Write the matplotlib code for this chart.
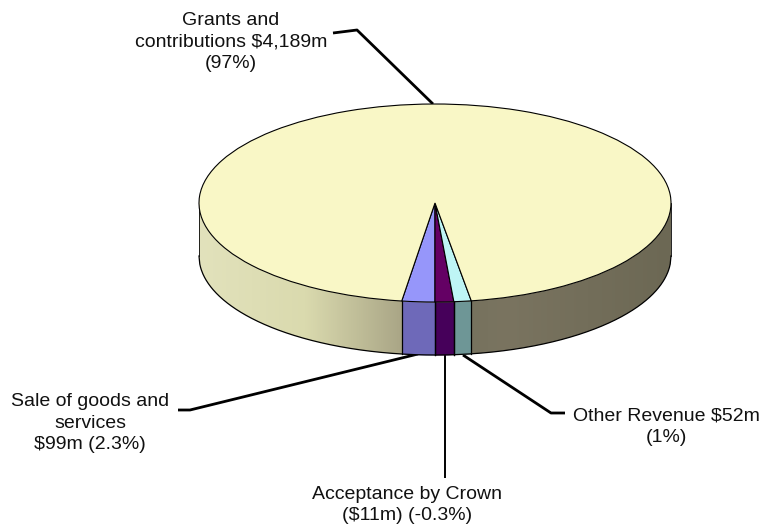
import numpy as np
import matplotlib.pyplot as plt

plt.rcParams['font.family'] = ['Liberation Sans', 'DejaVu Sans']

W, H = 762, 531

# slices run anticlockwise starting with the blue one at the front
names = ["Sale of goods and\nservices\n$99m (2.3%)",
         "Acceptance by Crown\n($11m) (-0.3%)",
         "Other Revenue $52m\n(1%)",
         "Grants and\ncontributions $4,189m\n(97%)"]
# drawn sizes, the purple slice is wider than its label says
sizes = [99, 56, 52, 4189]
top_colors = ["#9696fa", "#640064", "#bef5f5", "#f9f7c6"]
side_colors = ["#6e69b9", "#46005a", "#6e9696"]

# wall shading of the big slice, left to right
shade_x = [-1.0, -0.55, -0.16, 0.15, 0.3, 1.0]
shade_r = [226, 218, 172, 118, 122, 108]
shade_g = [226, 218, 168, 114, 116, 104]
shade_b = [188, 174, 136, 94, 96, 84]

label_x = [90, 407, 666, 231]
label_y = [423, 505, 427, 42]

leaders = [([178, 190, 418], [410, 410, 354], 2.0),
           ([445, 445], [355, 478], 1.4),
           ([463, 551, 565], [355, 413, 413], 2.0),
           ([333, 357, 433], [33, 30, 104], 2.0)]

cx, cy = 435, 203
rx, ry = 236, 99
depth = 53 / ry

fig = plt.figure(figsize=(W / 100, H / 100), dpi=100)

bg = fig.add_axes([0, 0, 1, 1])
bg.set_xlim(0, W)
bg.set_ylim(H, 0)
bg.axis('off')

# pie axes: one data unit is rx across and ry down
ax = fig.add_axes([(cx - rx * 1.02) / W, 1 - (cy + ry * 1.6) / H,
                   rx * 2.04 / W, ry * 2.62 / H])
ax.set_zorder(1)
ax.patch.set_alpha(0)

total = sum(sizes)
start = 270 - sizes[0] / total * 360

ax.pie(sizes, colors=top_colors, startangle=start, radius=1, counterclock=True,
       wedgeprops=dict(edgecolor='black', linewidth=0.8, zorder=3))
ax.set_aspect('auto')

# outer wall
x = np.linspace(-1, 1, 600)
upper = -np.sqrt(1 - x ** 2)
lower = upper - depth
wall = ax.fill_between(x, lower, upper, facecolor='none', edgecolor='none', zorder=1)

gx = np.linspace(-1, 1, 400)
grad = np.dstack([np.interp(gx, shade_x, shade_r),
                  np.interp(gx, shade_x, shade_g),
                  np.interp(gx, shade_x, shade_b)]) / 255
im = ax.imshow(grad, extent=(-1, 1, -1 - depth, 0), aspect='auto', zorder=1, origin='lower')
im.set_clip_path(wall.get_paths()[0], transform=ax.transData)

# front walls of the small slices
angle = start
for size, col in zip(sizes[:3], side_colors):
    end = angle + size / total * 360
    a = np.radians(np.linspace(angle, end, 30))
    xs = np.cos(a)
    ys = np.sin(a)
    ax.fill_between(xs, ys - depth, ys, color=col, lw=0, zorder=2)
    ax.plot([xs[0], xs[0]], [ys[0], ys[0] - depth], color='black', lw=0.9, zorder=2.5)
    ax.plot([xs[-1], xs[-1]], [ys[-1], ys[-1] - depth], color='black', lw=0.9, zorder=2.5)
    angle = end

# outline of the wall
ax.plot(x, lower, color='black', lw=0.9, zorder=2.5)
ax.plot([-1, -1], [0, -depth], color='black', lw=0.6, zorder=2.5)
ax.plot([1, 1], [0, -depth], color='black', lw=0.6, zorder=2.5)

ax.set_xlim(-1.02, 1.02)
ax.set_ylim(-1.6, 1.02)
ax.axis('off')

for xs, ys, lw in leaders:
    bg.plot(xs, ys, color='black', lw=lw, solid_capstyle='butt')

for name, lx, ly in zip(names, label_x, label_y):
    bg.text(lx, ly, name, ha='center', va='center', fontsize=14, color='#111111',
            linespacing=1.33)

fig.savefig("out.png", dpi=100)
